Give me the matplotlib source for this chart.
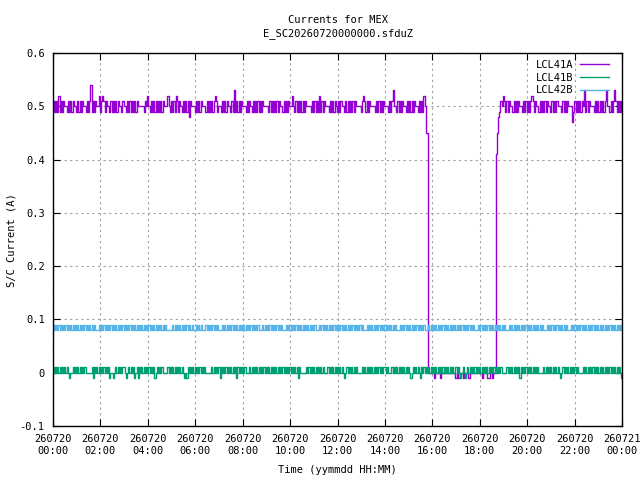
import numpy as np
import matplotlib
matplotlib.use("Agg")
import matplotlib.pyplot as plt
import matplotlib.dates as mdates
from matplotlib.ticker import FuncFormatter, MultipleLocator

# code letters -> current (A)
levels = {'n': -0.01, 'z': 0.00, 'p': 0.01, 'q': 0.08, 'r': 0.09,
          'k': 0.41, 'h': 0.45, 'm': 0.47, 'g': 0.48, 'a': 0.49,
          'b': 0.50, 'c': 0.51, 'd': 0.52, 'e': 0.53, 'f': 0.54}

# one string per 3 hour block, one letter per sample
lcl41a = [
    "acacadacac" "bbacacacbb" "acacacbbac" "acfacacbbd" "acdcacbbac" "acacacbbac",
    "bbacacacac" "acbbbbbacb" "dbacacacac" "acacbbbdba" "cacadcacba" "cacacgcbbb",
    "acacacbbba" "cacacacdca" "bbacacacbb" "acaeacacac" "bbbacacbac" "acacacacbb",
    "bbacacacac" "acbbacacac" "bbdbacacac" "acacbbbbac" "acacadacac" "bbbacacacb",
    "acacbbacac" "acacacbbbb" "acdcacacbb" "bbacacacac" "bbbacacebb" "acacacbbac",
    "acacacbbac" "acadbhhzzz" "zznzzzznzz" "zzzzzzzzzz" "nznnzznzzz" "znzzzzzzzz",
    "zznzzzznnz" "znzzkhgacb" "dcacacbbac" "acacbbacac" "acacdcacbb" "acacacacbb",
    "acacacbbba" "cacacbbbma" "cacacacbea" "cacbbbacac" "acacacebba" "cacecacaca",
]
lcl41b = [
    "pzpzpzpzpz" "pzpznzzpzp" "zpzpzpzpzz" "zzzpnpzpzp" "zpzpzpzpnz" "znzpzpzpzp",
    "pznzpzpzpn" "zpnpzpzpzp" "zpzpzpnzpz" "pzpzzzzpzp" "zpzpzpzpzp" "znznpzpzpz",
    "pzpzpzpzpz" "zzzzpzpzpz" "pnpzpzpzpz" "pzpzpnpzpz" "pzpzzzpzpz" "pzpzpzpzpz",
    "pzpzpzpzpz" "pzpzpzpzpz" "pzpzpzpnpz" "zzzzpzpzpz" "pzpzpzpzpz" "zzpzpzpzpz",
    "pzpzpznzpz" "pzpzpzpzzz" "zpzpzpzpzp" "zpzpzpzpzp" "pzpzzzpzpz" "pzpzpzpzpz",
    "pznzpzpzpz" "npzpzpzpzp" "zpzpzpzpzp" "zpzpzpzpzz" "pzpznzpznz" "pzpzpzpzpz",
    "pzpzpzpzpz" "pzpzpzpzpz" "zzzpzpzpzp" "zpzpnpzpzp" "zpzpzpzpzp" "zzzzpzpzpz",
    "pzpzpzpznz" "pzpzpzpzpz" "pzpzzzzpzp" "zpzpzpzpzp" "zpzpzpzpzp" "zpzpzpzpzn",
]
lcl42b = [
    "qrqrqrqrqr" "qrqrqrqrqr" "qrqrqrqrqr" "qrqrqrqqqr" "qrqrqrqrqr" "qrqrqrqrqr",
    "qrqrqrqrqr" "qrqrqrqrqr" "qrqrqrqrqr" "qrqrqrqqqq" "qrqrqrqrqr" "qrqrqrqqrq",
    "qrqrqrqqqr" "qrqrqrqrqr" "qqqrqrqrqr" "qrqrqrqrqr" "qrqrqrqrqr" "qrqrqqqrqr",
    "qrqrqrqrqr" "qrqrqqqrqr" "qrqrqrqrqr" "qrqrqrqrqr" "qrqqqrqrqr" "qrqrqrqrqr",
    "qrqrqrqrqr" "qrqrqrqrqr" "qrqqqrqrqr" "qrqrqrqrqr" "qrqrqrqrqr" "qqqrqrqrqr",
    "qrqrqrqrqr" "qrqrqqqrqr" "qrqrqrqrqr" "qrqrqrqrqr" "qrqrqrqrqr" "qrqrqrqqqr",
    "qrqrqrqrqr" "qrqrqrqrqr" "qrqqqrqrqr" "qrqrqrqrqr" "qrqrqrqrqr" "qrqrqqqrqr",
    "qrqrqrqrqr" "qrqrqqqrqr" "qrqrqrqrqr" "qrqrqrqrqr" "qrqrqrqrqr" "qrqrqrqrqr",
]
names = ["LCL41A", "LCL41B", "LCL42B"]
colors = ["#9400d3", "#009e73", "#56b4e9"]

start = np.datetime64("2026-07-20T00:00")


def series(blocks):
    t, v = [], []
    for k, s in enumerate(blocks):
        n = len(s)
        last = k == len(blocks) - 1
        mins = np.linspace(0, 180, n, endpoint=last) if last else np.arange(n) * 180.0 / n
        for m, ch in zip(mins, s):
            t.append(start + np.timedelta64(int(round((k * 180 + m) * 60)), "s"))
            v.append(levels[ch])
    return np.array(t), np.array(v)


plt.rcParams['font.family'] = ['DejaVu Sans Mono']
fig = plt.figure(figsize=(6.4, 4.8), dpi=100)
ax = fig.add_axes([53 / 640, 1 - 426 / 480, 569 / 640, 373 / 480])

for blocks, name, col in zip([lcl41a, lcl41b, lcl42b], names, colors):
    t, v = series(blocks)
    ax.plot(t, v, color=col, lw=1.0, label=name, drawstyle="steps-mid")

ax.set_xlim(start, start + np.timedelta64(24, "h"))
ax.set_ylim(-0.1, 0.6)
ax.yaxis.set_major_locator(MultipleLocator(0.1))
ax.yaxis.set_major_formatter(FuncFormatter(lambda y, p: "%g" % round(y, 2)))
ax.xaxis.set_major_locator(mdates.HourLocator(interval=2))
ax.xaxis.set_major_formatter(mdates.DateFormatter("%y%m%d\n%H:%M"))

ax.tick_params(direction="in", top=True, right=True, length=5, width=0.8,
               labelsize=7.5, pad=6)
for sp in ax.spines.values():
    sp.set_linewidth(1.0)
ax.grid(True, color="#a0a0a0", lw=0.8, linestyle=(0, (2, 3)))

leg = ax.legend(loc="upper right", bbox_to_anchor=(609 / 640, 1 - 60 / 480),
                bbox_transform=fig.transFigure, frameon=False,
                markerfirst=False, handlelength=2.8, fontsize=7.5,
                labelspacing=0.25, borderaxespad=0, borderpad=0,
                handletextpad=0.65)

fig.text(337.5 / 640, 1 - 20 / 480, "Currents for MEX", ha="center", va="center", fontsize=7.5)
fig.text(337.5 / 640, 1 - 34 / 480, "E_SC20260720000000.sfduZ", ha="center", va="center", fontsize=7.5)
fig.text(337.5 / 640, 1 - 470 / 480, "Time (yymmdd HH:MM)", ha="center", va="center", fontsize=7.5)
fig.text(12 / 640, 1 - 240 / 480, "S/C Current (A)", ha="center", va="center",
         rotation=90, fontsize=7.5)

fig.savefig("out.png", dpi=100)
